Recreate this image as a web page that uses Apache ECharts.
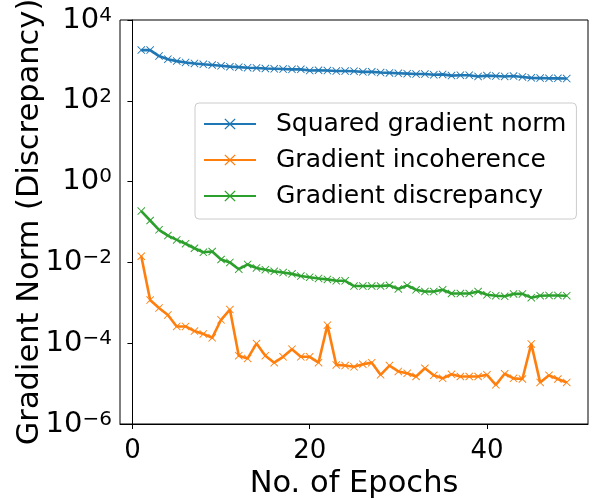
<!DOCTYPE html>
<html>
<head>
<meta charset="utf-8">
<script src="https://cdn.jsdelivr.net/npm/echarts@6/dist/echarts.min.js"></script>
<style>html,body{margin:0;padding:0;background:#fff;}#c{width:600px;height:500px;}</style>
</head>
<body>
<div id="c"></div>
<script>
var epochs = [1,2,3,4,5,6,7,8,9,10,11,12,13,14,15,16,17,18,19,20,21,22,23,24,25,26,27,28,29,30,31,32,33,34,35,36,37,38,39,40,41,42,43,44,45,46,47,48,49];
var squaredNorm = [1800,1800,1280,1070,960,890,840,800,770,735,700,680,660,650,630,620,610,600,600,560,570,560,545,545,540,520,520,500,490,480,470,460,460,440,450,420,430,430,400,420,410,400,410,390,370,365,360,360,355];
var incoherence = [0.0142,0.00117,0.00074,0.0005,0.00026,0.00026,0.0002,0.00017,0.000136,0.00038,0.00068,4.9e-5,4.2e-5,9.8e-5,4.9e-5,3.3e-5,4.6e-5,7.1e-5,4.6e-5,4.6e-5,3.3e-5,2.8e-4,2.9e-5,2.8e-5,2.6e-5,3.0e-5,3.3e-5,1.65e-5,2.8e-5,2.0e-5,1.8e-5,1.5e-5,2.4e-5,1.6e-5,1.35e-5,1.7e-5,1.5e-5,1.5e-5,1.5e-5,1.65e-5,9.3e-6,1.75e-5,1.35e-5,1.3e-5,9.6e-5,1.07e-5,1.6e-5,1.3e-5,1.07e-5];
var discrepancy = [0.186,0.109,0.064,0.046,0.036,0.029,0.0224,0.0178,0.0186,0.0118,0.0100,0.0068,0.0089,0.0073,0.0066,0.0060,0.0056,0.0052,0.0046,0.0043,0.0040,0.0038,0.0035,0.0035,0.0026,0.0026,0.0026,0.0026,0.0027,0.0022,0.0027,0.0021,0.0019,0.0019,0.0021,0.0017,0.0017,0.0017,0.0019,0.00158,0.0015,0.00145,0.00166,0.00166,0.00134,0.0015,0.00152,0.00152,0.0015];
var seriesNames = ['Squared gradient norm','Gradient incoherence','Gradient discrepancy'];
var xTicks = [0,20,40];

var colors = ['#1f77b4','#ff7f0e','#2ca02c'];
var xSym = 'path://M0,0.8L0.8,0L5,4.2L9.2,0L10,0.8L5.8,5L10,9.2L9.2,10L5,5.8L0.8,10L0,9.2L4.2,5Z';
var font = 'DejaVu Sans';

function mk(name, data, c) {
  return {
    name: name, type: 'line',
    data: epochs.map(function(e, i){ return [e, data[i]]; }),
    symbol: xSym, symbolSize: 8, showSymbol: true,
    lineStyle: {color: c, width: 2.6},
    itemStyle: {color: c},
    emphasis: {disabled: true},
    animation: false
  };
}

var chart = echarts.init(document.getElementById('c'));
chart.setOption({
  backgroundColor: '#fff',
  animation: false,
  grid: {left: 120, right: 12, top: 20, bottom: 76, containLabel: false, outerBoundsMode: 'none', show: true, borderColor: '#000', borderWidth: 1, backgroundColor: 'transparent'},
  legend: {
    orient: 'vertical', left: 195, top: 103,
    data: seriesNames,
    itemWidth: 52, itemHeight: 14, itemGap: 6,
    padding: [6, 10, 8, 8],
    backgroundColor: 'rgba(255,255,255,0.8)',
    borderColor: '#cccccc', borderWidth: 1, borderRadius: 4,
    textStyle: {fontFamily: font, fontSize: 25, color: '#000', lineHeight: 30, padding: [0,0,0,15]}
  },
  xAxis: {
    type: 'value', min: -1.4, max: 51.4,
    name: 'No. of Epochs', nameLocation: 'middle', nameGap: 43,
    nameTextStyle: {fontFamily: font, fontSize: 30.5, color: '#000'},
    axisLine: {show: true, onZero: false, lineStyle: {color: '#000', width: 1}},
    axisTick: {show: true, length: 5, lineStyle: {color: '#000'}, customValues: xTicks},
    axisLabel: {fontFamily: font, fontSize: 26, color: '#000', margin: 14, customValues: xTicks},
    splitLine: {show: false}
  },
  yAxis: {
    type: 'log', logBase: 10, min: 1e-6, max: 1e4, interval: 2,
    name: 'Gradient Norm (Discrepancy)', nameLocation: 'middle', nameGap: 74, nameMoveOverlap: false,
    nameTextStyle: {fontFamily: font, fontSize: 30.5, color: '#000'},
    axisLine: {show: true, lineStyle: {color: '#000', width: 1}},
    axisTick: {show: true, length: 5, lineStyle: {color: '#000'}},
    minorTick: {show: false},
    axisLabel: {
      margin: 8,
      formatter: function(v){
        var e = Math.round(Math.log(v)/Math.LN10);
        var s = e < 0 ? '\u2212' + (-e) : '' + e;
        return '{b|10}{s|' + s + '}';
      },
      rich: {
        b: {fontFamily: font, fontSize: 29, color: '#000', lineHeight: 29, verticalAlign: 'middle'},
        s: {fontFamily: font, fontSize: 20, color: '#000', lineHeight: 12, verticalAlign: 'top'}
      }
    },
    splitLine: {show: false}
  },
  series: [
    mk(seriesNames[0], squaredNorm, colors[0]),
    mk(seriesNames[1], incoherence, colors[1]),
    mk(seriesNames[2], discrepancy, colors[2])
  ]
});
</script>
</body>
</html>
